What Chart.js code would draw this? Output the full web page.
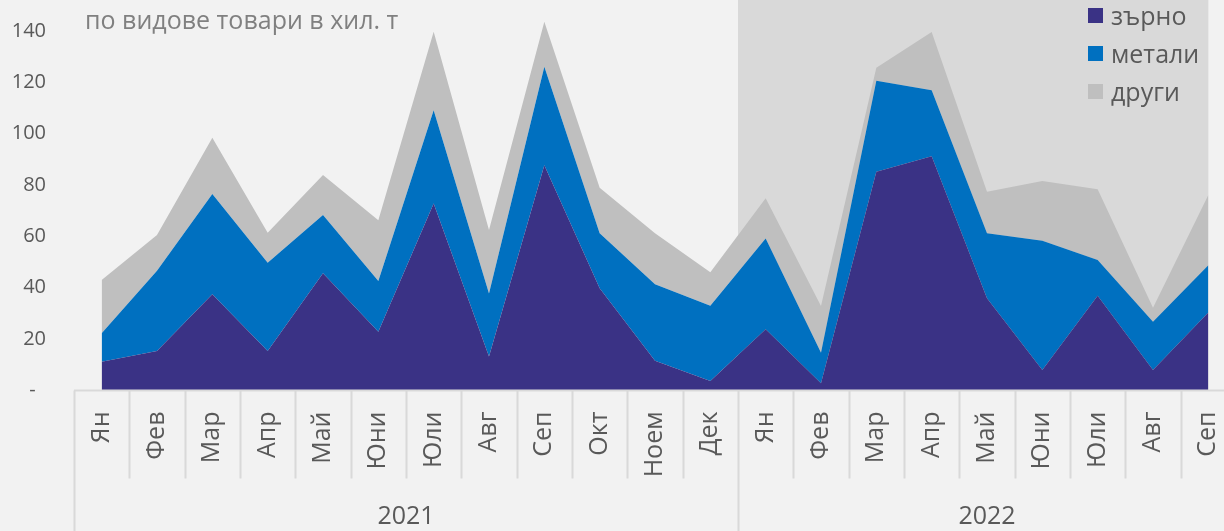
<!DOCTYPE html>
<html lang="bg">
<head>
  <meta charset="UTF-8">
  <title>Товари по видове</title>
  <script src="https://cdn.jsdelivr.net/npm/chart.js"></script>
  <style>
    html, body {
      margin: 0;
      padding: 0;
      background: #f2f2f2;
      font-family: "Open Sans", sans-serif;
    }
    #wrap {
      position: relative;
      width: 1224px;
      height: 531px;
      overflow: hidden;
    }
    #chart {
      position: absolute;
      left: 0;
      top: 0;
    }
    #title {
      position: absolute;
      left: 85px;
      top: 2px;
      font-size: 25px;
      line-height: 34px;
      color: #808080;
      white-space: nowrap;
    }
    #legend {
      position: absolute;
      left: 1088px;
      top: -4px;
    }
    .item {
      height: 38px;
      display: flex;
      align-items: center;
      font-size: 25px;
      color: #595959;
    }
    .box {
      width: 15px;
      height: 15px;
      margin-right: 8px;
    }
  </style>
</head>
<body>
  <div id="wrap">
    <canvas id="chart" width="1236" height="531"></canvas>
    <div id="title">по видове товари в хил. т</div>
    <div id="legend"></div>
  </div>

  <script>
    const months = ['Ян', 'Фев', 'Мар', 'Апр', 'Май', 'Юни', 'Юли', 'Авг', 'Сеп', 'Окт', 'Ноем', 'Дек',
                    'Ян', 'Фев', 'Мар', 'Апр', 'Май', 'Юни', 'Юли', 'Авг', 'Сеп'];
    const years = ['2021', '2022'];
    const yearSpans = [12, 9];

    const seriesNames = ['зърно', 'метали', 'други'];
    const zarno  = [11.2, 15.4, 37.5, 15.4, 45.6, 22.9, 72.8, 13.2, 87.7, 39.8, 11.6, 3.7,
                    23.8, 2.8, 85.1, 91.2, 35.9, 8.0, 36.9, 8.0, 30.4];
    const metali = [11.1, 31.2, 39.0, 34.3, 22.7, 19.7, 36.3, 24.6, 38.3, 21.4, 29.8, 29.3,
                    35.4, 11.9, 35.5, 25.7, 25.3, 50.3, 13.9, 18.8, 18.4];
    const drugi  = [20.7, 13.9, 21.9, 11.7, 15.6, 23.7, 30.5, 24.7, 17.5, 17.7, 19.8, 13.0,
                    15.6, 18.2, 5.0, 22.6, 16.2, 23.2, 27.5, 5.4, 27.3];
    const yTicks = [0, 20, 40, 60, 80, 100, 120, 140];

    const colors = ['#3a3285', '#0070c0', '#bfbfbf'];
    const lineGrey = '#d9d9d9';
    const textGrey = '#595959';

    // legend as html
    const legend = document.getElementById('legend');
    seriesNames.forEach((name, i) => {
      const row = document.createElement('div');
      row.className = 'item';
      row.innerHTML = '<span class="box" style="background:' + colors[i] + '"></span>' + name;
      legend.appendChild(row);
    });

    // shaded 2022 band, category separators, year labels
    const framePlugin = {
      id: 'frame',
      beforeDatasetsDraw(chart) {
        const { ctx, chartArea, scales } = chart;
        const x0 = scales.x.getPixelForValue(yearSpans[0] - 0.5);
        const x1 = scales.x.getPixelForValue(months.length - 1);
        ctx.save();
        ctx.fillStyle = lineGrey;
        ctx.fillRect(x0, chartArea.top, x1 - x0, chartArea.bottom - chartArea.top);
        ctx.restore();
      },
      afterDraw(chart) {
        const { ctx, chartArea, scales, height, width } = chart;
        const xs = scales.x;
        const base = chartArea.bottom;
        ctx.save();
        ctx.strokeStyle = lineGrey;
        ctx.lineWidth = 2;
        ctx.beginPath();
        ctx.moveTo(chartArea.left, base);
        ctx.lineTo(width, base);
        ctx.stroke();

        const bounds = [0];
        yearSpans.forEach(s => bounds.push(bounds[bounds.length - 1] + s));
        for (let i = 0; i <= months.length; i++) {
          const x = Math.round(xs.getPixelForValue(i - 0.5)) + 0.5;
          const full = bounds.includes(i);
          ctx.beginPath();
          ctx.moveTo(x, base);
          ctx.lineTo(x, full ? height : base + 88);
          ctx.stroke();
        }

        ctx.fillStyle = textGrey;
        ctx.font = '25px "Open Sans"';
        ctx.textAlign = 'center';
        ctx.textBaseline = 'middle';
        years.forEach((y, k) => {
          const a = xs.getPixelForValue(bounds[k] - 0.5);
          const b = xs.getPixelForValue(bounds[k + 1] - 0.5);
          ctx.fillText(y, (a + b) / 2, 517);
        });
        ctx.restore();
      }
    };

    const ctx = document.getElementById('chart').getContext('2d');
    const chart = new Chart(ctx, {
      type: 'line',
      data: {
        labels: months,
        datasets: [zarno, metali, drugi].map((d, i) => ({
          label: seriesNames[i],
          data: d,
          backgroundColor: colors[i],
          borderColor: colors[i],
          borderWidth: 0,
          pointRadius: 0,
          fill: i === 0 ? 'origin' : '-1',
          tension: 0
        }))
      },
      options: {
        responsive: false,
        animation: false,
        devicePixelRatio: 1,
        layout: { padding: 0 },
        plugins: {
          legend: { display: false },
          tooltip: { enabled: false }
        },
        scales: {
          x: {
            offset: true,
            grid: { display: false, drawTicks: false },
            border: { display: false },
            ticks: {
              minRotation: 90,
              maxRotation: 90,
              autoSkip: false,
              padding: 21,
              color: textGrey,
              font: { family: 'Open Sans', size: 25 }
            },
            afterFit(scale) {
              scale.height = 531 - 390.5;
              scale.paddingLeft = 0;
              scale.paddingRight = 0;
            }
          },
          y: {
            stacked: true,
            min: 0,
            max: 152,
            grid: { display: false, drawTicks: false },
            border: { display: false },
            afterBuildTicks(scale) { scale.ticks = yTicks.map(v => ({ value: v })); },
            ticks: {
              padding: 28,
              color: textGrey,
              font: { family: 'Open Sans', size: 20 },
              callback: v => v === 0 ? '-  ' : v
            },
            afterFit(scale) {
              scale.width = 74;
              scale.paddingTop = 0;
              scale.paddingBottom = 0;
            }
          }
        }
      },
      plugins: [framePlugin]
    });
  </script>
</body>
</html>
